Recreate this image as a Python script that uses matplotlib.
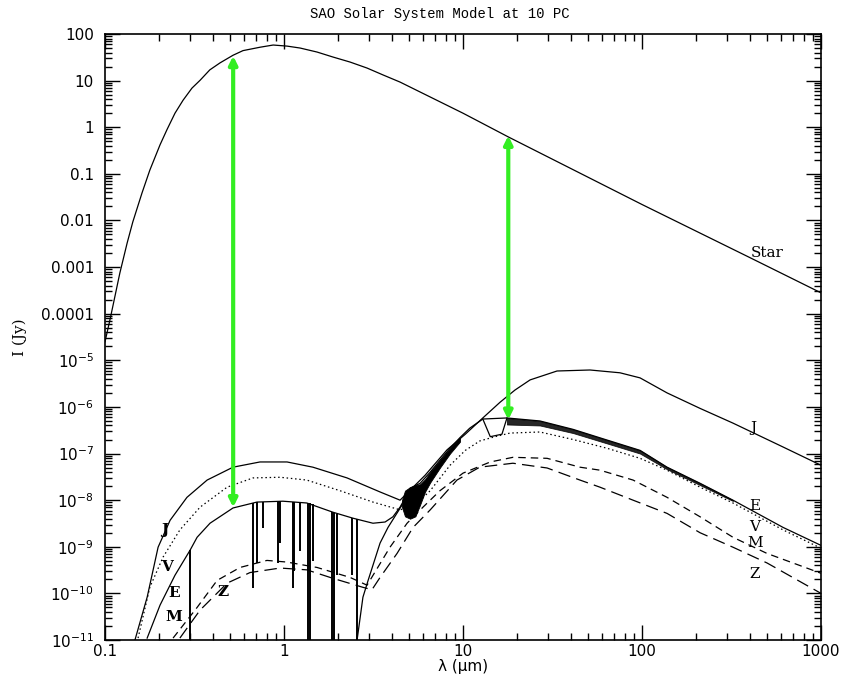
import numpy as np
import matplotlib
matplotlib.use('Agg')
import matplotlib.pyplot as plt
from matplotlib.ticker import FixedLocator, FixedFormatter, LogLocator, NullFormatter

# ---------------- data (wavelength in micron, flux in Jy) ----------------
star_wl = [0.1, 0.107, 0.114, 0.121, 0.133, 0.143, 0.161, 0.178, 0.203, 0.222, 0.246, 0.273,
           0.306, 0.34, 0.385, 0.439, 0.519, 0.59, 0.734, 0.87, 1.04, 1.23, 1.53, 1.88, 2.34,
           2.91, 3.58, 4.45, 10, 17.9, 100, 400, 1000]
star_flux = [2.5e-5, 7.9e-5, 2.5e-4, 7.4e-4, 3.3e-3, 9.3e-3, 3.9e-2, 0.12, 0.42, 0.89, 2.0, 3.8,
             6.9, 10.2, 17, 24, 35, 44, 52, 58, 55, 50, 41, 32, 25,
             18.6, 13.2, 9.3, 2.0, 0.62, 0.022, 1.6e-3, 2.8e-4]

jup_wl = [0.147, 0.172, 0.198, 0.231, 0.287, 0.372, 0.519, 0.734, 1.04, 1.45, 2.25, 3.44, 4.45,
          6.13, 8.14, 10.3, 12.9, 16.1, 19.5, 23.7, 33.5, 51.2, 75.3, 97.5, 138, 211, 322, 614, 1000]
jup_flux = [1.0e-11, 8.3e-11, 9.8e-10, 3.7e-9, 1.15e-8, 2.7e-8, 5.1e-8, 6.6e-8, 6.6e-8, 5.1e-8,
            3.0e-8, 1.5e-8, 1.0e-8, 3.4e-8, 1.2e-7, 2.6e-7, 5.8e-7, 1.26e-6, 2.3e-6, 3.8e-6,
            5.9e-6, 6.2e-6, 5.4e-6, 4.2e-6, 2.0e-6, 9.3e-7, 4.5e-7, 1.38e-7, 5.6e-8]

ven_wl = [0.153, 0.178, 0.211, 0.262, 0.34, 0.481, 0.671, 0.951, 1.34, 2.05, 3.14, 4.45, 5.39,
          6.56, 8.46, 10.3, 12.4, 15.1, 18.3, 26.9, 41.2, 63.7, 97.5, 138, 211, 322, 614, 1000]
ven_flux = [1.1e-11, 1.35e-10, 6.0e-10, 2.3e-9, 7.1e-9, 1.9e-8, 3.0e-8, 3.1e-8, 2.7e-8, 1.6e-8,
            9.1e-9, 6.2e-9, 7.8e-9, 1.6e-8, 5.6e-8, 1.17e-7, 1.86e-7, 2.3e-7, 2.75e-7, 2.9e-7,
            2.0e-7, 1.3e-7, 7.9e-8, 4.4e-8, 1.9e-8, 8.7e-9, 2.3e-9, 9.3e-10]

earth_wl = [0.172, 0.203, 0.246, 0.299, 0.327, 0.386, 0.519, 0.706, 0.986, 1.34, 1.88, 2.43, 3.14,
            3.67, 4.06, 4.45, 4.74, 5.06, 5.76, 6.56, 7.44, 8.46, 9.62, 10.9, 12.9, 17.6, 26.9,
            41.2, 63.7, 97.5, 138, 211, 322, 614, 1000]
earth_flux = [1.1e-11, 5.6e-11, 2.45e-10, 8.5e-10, 1.6e-9, 3.2e-9, 6.8e-9, 9.1e-9, 9.5e-9, 8.7e-9,
              5.5e-9, 4.1e-9, 3.2e-9, 3.4e-9, 4.4e-9, 7.1e-9, 1.1e-8, 1.8e-8, 2.3e-8, 4.0e-8,
              7.2e-8, 1.3e-7, 2.2e-7, 3.5e-7, 5.5e-7, 5.8e-7, 5.0e-7, 3.3e-7, 1.95e-7, 1.17e-7,
              5.1e-8, 2.3e-8, 1.0e-8, 2.6e-9, 1.07e-9]

# Earth absorption bands: wavelength, top (continuum) and bottom of each band
band_wl = [0.30, 0.67, 0.71, 0.76, 0.93, 0.95, 1.12, 1.14, 1.23, 1.36, 1.40, 1.45, 1.85, 1.90,
           1.98, 2.40, 2.55]
band_top = [8.5e-10, 8.8e-9, 9.1e-9, 9.2e-9, 9.5e-9, 9.5e-9, 9.3e-9, 9.2e-9, 9.0e-9, 8.7e-9,
            8.5e-9, 8.2e-9, 5.6e-9, 5.4e-9, 5.1e-9, 4.2e-9, 4.0e-9]
band_min = [1e-11, 1.3e-10, 4.5e-10, 2.5e-9, 4.5e-10, 1.2e-9, 1.3e-10, 3.0e-10, 8.0e-10, 1e-11,
            1e-11, 5.0e-10, 1e-11, 1e-11, 2.5e-10, 2.5e-10, 1e-11]

# Earth: recovery after the 2.7 micron band
earth_nir_wl = [2.56, 2.76, 2.95, 3.44, 3.81, 4.56]
earth_nir_flux = [1e-11, 8.3e-11, 1.9e-10, 1.2e-9, 2.6e-9, 7.8e-9]

# Earth: dense line forest 4.5-10 micron (lower / upper envelope)
forest_wl = [4.56, 4.74, 5.06, 5.42, 5.76, 6.13, 6.56, 7.44, 8.46, 9.62]
forest_lo = [7.1e-9, 4.5e-9, 4.0e-9, 4.5e-9, 8.0e-9, 1.5e-8, 2.4e-8, 5.0e-8, 1.0e-7, 1.8e-7]
forest_hi = [1.0e-8, 1.6e-8, 1.9e-8, 2.1e-8, 2.2e-8, 2.8e-8, 4.0e-8, 7.2e-8, 1.3e-7, 2.2e-7]

# Earth: noisy thermal band
noise_wl = [17.6, 26.9, 41.2, 63.7, 97.5, 138, 211, 322]
noise_hi = [5.8e-7, 5.0e-7, 3.3e-7, 1.95e-7, 1.17e-7, 5.1e-8, 2.3e-8, 1.0e-8]
noise_lo = [4.2e-7, 4.0e-7, 2.75e-7, 1.65e-7, 1.0e-7, 4.6e-8, 2.1e-8, 9.6e-9]

# Earth: CO2 15 micron band
co2_wl = [12.9, 14.2, 16.5, 17.6]
co2_flux = [5.5e-7, 2.3e-7, 2.6e-7, 5.8e-7]

mars_wl = [0.240, 0.327, 0.423, 0.568, 0.803, 1.04, 1.53, 2.34, 2.91, 3.91, 4.87, 5.98, 7.44,
           10.0, 14.2, 19.0, 29.5, 45.0, 58.2, 89.1, 138, 211, 322, 499, 1000]
mars_flux = [1.1e-11, 5.0e-11, 1.9e-10, 3.6e-10, 5.1e-10, 4.7e-10, 3.6e-10, 2.2e-10, 1.5e-10,
             9.8e-10, 3.2e-9, 7.1e-9, 1.6e-8, 3.8e-8, 6.6e-8, 8.3e-8, 7.9e-8, 5.1e-8, 4.4e-8,
             2.7e-8, 1.15e-8, 4.4e-9, 1.6e-9, 7.2e-10, 2.7e-10]

zodi_wl = [0.262, 0.34, 0.481, 0.646, 0.951, 1.34, 1.88, 2.76, 3.10, 3.44, 4.28, 5.26, 6.56,
           9.25, 12.4, 19.0, 29.5, 45.0, 58.2, 89.1, 138, 211, 322, 499, 1000]
zodi_flux = [1.1e-11, 4.4e-11, 1.66e-10, 2.8e-10, 3.5e-10, 3.2e-10, 2.1e-10, 1.35e-10, 1.2e-10,
             2.2e-10, 7.2e-10, 2.6e-9, 6.2e-9, 2.7e-8, 5.1e-8, 6.2e-8, 4.9e-8, 2.7e-8, 1.9e-8,
             1.0e-8, 5.2e-9, 2.0e-9, 9.8e-10, 4.5e-10, 1.0e-10]

# contrast arrows
arrow_wl = [0.52, 17.9]
arrow_top = [34, 0.66]
arrow_bottom = [7.0e-9, 5.3e-7]

# curve labels
right_labels = ['Star', 'J', 'E', 'V', 'M', 'Z']
right_label_wl = [499, 417, 428, 428, 428, 428]
right_label_flux = [2.0e-3, 3.5e-7, 7.4e-9, 2.6e-9, 1.2e-9, 2.6e-10]
left_labels = ['J', 'V', 'E', 'M', 'Z']
left_label_wl = [0.216, 0.222, 0.243, 0.243, 0.456]
left_label_flux = [2.3e-9, 3.6e-10, 1.0e-10, 3.1e-11, 1.07e-10]

x_ticks = [0.1, 1, 10, 100, 1000]
x_tick_labels = ['0.1', '1', '10', '100', '1000']
y_ticks = [1e2, 1e1, 1e0, 1e-1, 1e-2, 1e-3, 1e-4, 1e-5, 1e-6, 1e-7, 1e-8, 1e-9, 1e-10, 1e-11]
y_tick_labels = ['100', '10', '1', '0.1', '0.01', '0.001', '0.0001',
                 r'$\mathregular{10^{-5}}$', r'$\mathregular{10^{-6}}$', r'$\mathregular{10^{-7}}$',
                 r'$\mathregular{10^{-8}}$', r'$\mathregular{10^{-9}}$', r'$\mathregular{10^{-10}}$',
                 r'$\mathregular{10^{-11}}$']

# ---------------- figure ----------------
fig = plt.figure(figsize=(8.42, 6.80), dpi=100)
ax = fig.add_axes([0.1247, 0.0588, 0.8504, 0.8912])
ax.set_xscale('log')
ax.set_yscale('log')
ax.set_xlim(0.1, 1000)
ax.set_ylim(1e-11, 100)

lw = 0.9
ax.plot(star_wl, star_flux, color='black', lw=lw)
ax.plot(ven_wl, ven_flux, color='black', lw=lw, dashes=(1.2, 2.2))
ax.plot(earth_wl, earth_flux, color='black', lw=lw)
ax.vlines(band_wl, band_min, band_top, color='black', lw=1.4)
ax.plot(earth_nir_wl, earth_nir_flux, color='black', lw=lw)
ax.fill_between(forest_wl, forest_lo, forest_hi, color='black', lw=0.6)
ax.fill_between(noise_wl, noise_lo, noise_hi, color='black', lw=0.6, alpha=0.85)
ax.plot(co2_wl, co2_flux, color='black', lw=lw)
ax.plot(mars_wl, mars_flux, color='black', lw=lw, dashes=(6, 4))
ax.plot(zodi_wl, zodi_flux, color='black', lw=lw, dashes=(10, 5))
ax.plot(jup_wl, jup_flux, color='black', lw=lw)

for wl, top, bot in zip(arrow_wl, arrow_top, arrow_bottom):
    ax.annotate('', xy=(wl, top), xytext=(wl, bot),
                arrowprops=dict(arrowstyle='<|-|>', color='#33ee22', lw=3,
                                mutation_scale=12, shrinkA=0, shrinkB=0))

for t, x, y in zip(right_labels, right_label_wl, right_label_flux):
    ax.text(x, y, t, ha='center', va='center', fontsize=11, family='DejaVu Serif')
for t, x, y in zip(left_labels, left_label_wl, left_label_flux):
    ax.text(x, y, t, ha='center', va='center', fontsize=11, family='DejaVu Serif',
            fontweight='bold')

ax.xaxis.set_major_locator(FixedLocator(x_ticks))
ax.xaxis.set_major_formatter(FixedFormatter(x_tick_labels))
ax.xaxis.set_minor_locator(LogLocator(base=10, subs=np.arange(2, 10)))
ax.xaxis.set_minor_formatter(NullFormatter())
ax.yaxis.set_major_locator(FixedLocator(y_ticks))
ax.yaxis.set_major_formatter(FixedFormatter(y_tick_labels))
ax.yaxis.set_minor_locator(LogLocator(base=10, subs=np.arange(2, 10), numticks=30))
ax.yaxis.set_minor_formatter(NullFormatter())

ax.tick_params(which='both', direction='in', top=True, right=True, width=1)
ax.tick_params(which='major', length=11, labelsize=11)
ax.tick_params(axis='y', which='major', pad=8)
ax.tick_params(axis='x', which='major', pad=3)
ax.tick_params(which='minor', length=5)
for s in ax.spines.values():
    s.set_linewidth(1.2)

fig.text(440 / 842, 1 - 14 / 680, 'SAO Solar System Model at 10 PC', ha='center', va='center',
         fontsize=10, family='Liberation Mono')
ax.set_xlabel('λ (μm)', fontsize=11, labelpad=0)
ax.set_ylabel('I (Jy)', fontsize=11, family='DejaVu Serif', labelpad=10)

fig.savefig('out.png', dpi=100)
